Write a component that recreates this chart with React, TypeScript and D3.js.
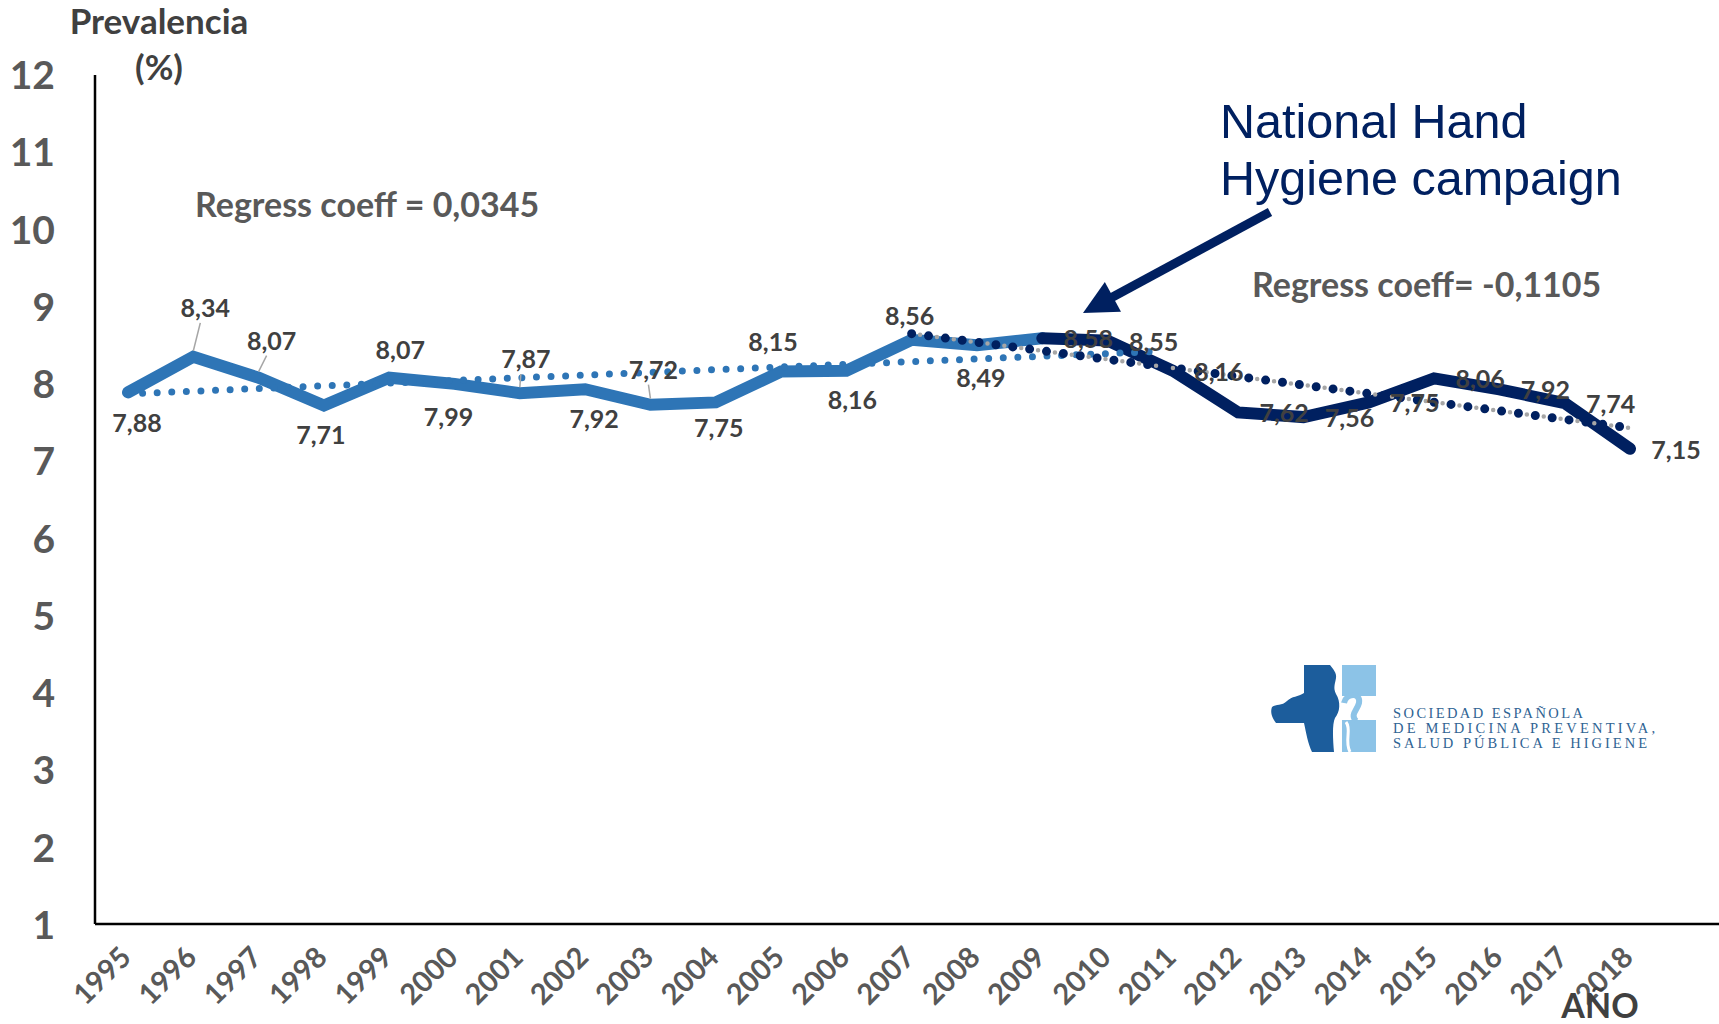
import * as d3 from "d3"
import React, { useEffect, useRef } from "react"

const years = [1995, 1996, 1997, 1998, 1999, 2000, 2001, 2002, 2003, 2004, 2005, 2006,
    2007, 2008, 2009, 2010, 2011, 2012, 2013, 2014, 2015, 2016, 2017, 2018]
const yTicks = [1, 2, 3, 4, 5, 6, 7, 8, 9, 10, 11, 12]

// prevalence before the campaign (1995-2009) and after (2009-2018)
const yearsBefore = [1995, 1996, 1997, 1998, 1999, 2000, 2001, 2002, 2003, 2004, 2005, 2006, 2007, 2008, 2009]
const prevBefore = [7.88, 8.34, 8.07, 7.71, 8.07, 7.99, 7.87, 7.92, 7.72, 7.75, 8.15, 8.16, 8.56, 8.49, 8.58]
const yearsAfter = [2009, 2010, 2011, 2012, 2013, 2014, 2015, 2016, 2017, 2018]
const prevAfter = [8.58, 8.55, 8.16, 7.62, 7.56, 7.75, 8.06, 7.92, 7.74, 7.15]

// trend lines (end points)
const trendBeforeYears = [1995, 2010.8]
const trendBeforeValues = [7.86, 8.41]
const trendAfterYears = [2007, 2018]
const trendAfterValues = [8.64, 7.42]

// manual nudges of the data labels (px) for the first series, and which have a leader line
const labelNudgeBefore = [[9, 30], [12, -50], [13, -38], [-3, 28], [11, -29], [-6, 32], [6, -35],
    [9, 29], [3, -36], [3, 25], [-8, -31], [6, 28], [-2, -25], [4, 32]]
const leaderBefore = [false, true, true, false, false, false, true, false, true, false, false, false, false, false]

const W = 1719
const H = 1024
const LIGHT = "#2e75b6"
const NAVY = "#002060"
const FONT = "Lato, 'Open Sans', sans-serif"

const fmt = (v: number) => v.toFixed(2).replace(".", ",")

const App = () => {
    const refSvg = useRef<SVGSVGElement>(null)

    useEffect(() => {
        const svg = d3.select(refSvg.current)
        svg.selectAll("*").remove()

        const x = d3.scaleLinear().domain([1995, 2018]).range([128, 1630])
        const y = d3.scaleLinear().domain([1, 12]).range([924, 74])

        svg.append("rect").attr("width", W).attr("height", H).attr("fill", "#fff")

        // axes
        svg.append("line").attr("x1", 95).attr("x2", 95).attr("y1", 75).attr("y2", y(1))
            .attr("stroke", "#000").attr("stroke-width", 2.5)
        svg.append("line").attr("x1", 95).attr("x2", W).attr("y1", y(1)).attr("y2", y(1))
            .attr("stroke", "#000").attr("stroke-width", 2.5)

        svg.append("g").selectAll("text").data(yTicks).join("text")
            .attr("x", 55).attr("y", d => y(d))
            .attr("text-anchor", "end").attr("dominant-baseline", "central")
            .attr("font-family", FONT).attr("font-weight", 700).attr("font-size", 39)
            .attr("fill", "#595959").text(d => d)

        svg.append("g").selectAll("text").data(years).join("text")
            .attr("transform", d => `translate(${x(d) + 5}, 959) rotate(-45)`)
            .attr("text-anchor", "end")
            .attr("font-family", FONT).attr("font-weight", 700).attr("font-size", 29)
            .attr("fill", "#595959").text(d => d)

        // axis titles
        const title = svg.append("g").attr("font-family", FONT).attr("font-weight", 700)
            .attr("fill", "#404040").attr("text-anchor", "middle")
        title.append("text").attr("x", 159).attr("y", 34).attr("font-size", 35).text("Prevalencia")
        title.append("text").attr("x", 159).attr("y", 80).attr("font-size", 35).text("(%)")
        title.append("text").attr("x", 1600).attr("y", 1018).attr("font-size", 34).text("AÑO")

        // solid series
        const line = d3.line<[number, number]>().x(d => x(d[0])).y(d => y(d[1]))
        svg.append("path").datum(yearsBefore.map((yr, i) => [yr, prevBefore[i]] as [number, number]))
            .attr("d", line).attr("fill", "none").attr("stroke", LIGHT).attr("stroke-width", 12)
            .attr("stroke-linecap", "round").attr("stroke-linejoin", "miter")
        svg.append("path").datum(yearsAfter.map((yr, i) => [yr, prevAfter[i]] as [number, number]))
            .attr("d", line).attr("fill", "none").attr("stroke", NAVY).attr("stroke-width", 12)
            .attr("stroke-linecap", "round").attr("stroke-linejoin", "miter")

        // trend lines
        svg.append("path").datum(trendBeforeYears.map((yr, i) => [yr, trendBeforeValues[i]] as [number, number]))
            .attr("d", line).attr("fill", "none").attr("stroke", LIGHT).attr("stroke-width", 7)
            .attr("stroke-linecap", "round").attr("stroke-dasharray", "0 14.6")
        const trendAfter = trendAfterYears.map((yr, i) => [yr, trendAfterValues[i]] as [number, number])
        svg.append("path").datum(trendAfter)
            .attr("d", line).attr("fill", "none").attr("stroke", "#a6a6a6").attr("stroke-width", 4.5)
            .attr("stroke-linecap", "round").attr("stroke-dasharray", "0 17").attr("stroke-dashoffset", -8.5)
        svg.append("path").datum(trendAfter)
            .attr("d", line).attr("fill", "none").attr("stroke", NAVY).attr("stroke-width", 9)
            .attr("stroke-linecap", "round").attr("stroke-dasharray", "0 17")

        // data labels
        const labels = svg.append("g").attr("font-family", FONT).attr("font-weight", 700)
            .attr("font-size", 25).attr("fill", "#404040").attr("text-anchor", "middle")
            .attr("dominant-baseline", "central")
        yearsBefore.slice(0, labelNudgeBefore.length).forEach((yr, i) => {
            const px = x(yr)
            const py = y(prevBefore[i])
            const [dx, dy] = labelNudgeBefore[i]
            if (leaderBefore[i]) {
                svg.append("line")
                    .attr("x1", px + dx - 5).attr("y1", py + dy + 16)
                    .attr("x2", px).attr("y2", py - 6)
                    .attr("stroke", "#a6a6a6").attr("stroke-width", 1.5)
            }
            labels.append("text").attr("x", px + dx).attr("y", py + dy).text(fmt(prevBefore[i]))
        })
        yearsAfter.forEach((yr, i) => {
            labels.append("text").attr("x", x(yr) + 46).attr("y", y(prevAfter[i]))
                .text(fmt(prevAfter[i]))
        })
        labels.raise()

        // regression notes
        const notes = svg.append("g").attr("font-family", FONT).attr("font-weight", 700)
            .attr("font-size", 34).attr("fill", "#595959").attr("dominant-baseline", "central")
        notes.append("text").attr("x", 195).attr("y", 203).text("Regress coeff = 0,0345")
        notes.append("text").attr("x", 1252).attr("y", 283).text("Regress coeff= -0,1105")

        // campaign annotation
        const ann = svg.append("g").attr("font-family", "'Liberation Sans', Arial, sans-serif")
            .attr("font-size", 48.5).attr("fill", NAVY)
        ann.append("text").attr("x", 1220).attr("y", 138).text("National Hand")
        ann.append("text").attr("x", 1220).attr("y", 195).text("Hygiene campaign")

        const start: [number, number] = [1270, 212]
        const tip: [number, number] = [1083, 313]
        const len = Math.hypot(tip[0] - start[0], tip[1] - start[1])
        const ux = (tip[0] - start[0]) / len
        const uy = (tip[1] - start[1]) / len
        const headL = 34
        const headW = 17
        const bx = tip[0] - ux * headL
        const by = tip[1] - uy * headL
        svg.append("line").attr("x1", start[0]).attr("y1", start[1])
            .attr("x2", bx + ux * 4).attr("y2", by + uy * 4)
            .attr("stroke", NAVY).attr("stroke-width", 9)
        svg.append("path")
            .attr("d", `M${tip[0]},${tip[1]} L${bx - uy * headW},${by + ux * headW} L${bx + uy * headW},${by - ux * headW} Z`)
            .attr("fill", NAVY)

        // logo of the society
        const logo = svg.append("g")
        logo.append("path")
            .attr("d", "M1304,665 L1330,665 C1333,669 1337,673 1336,678 C1335,684 1333,688 1336,694 C1341,702 1340,712 1335,718 C1332,724 1333,740 1334,752 L1312,752 C1308,744 1306,732 1304,723 L1276,723 C1272,718 1270,712 1272,707 C1276,704 1282,706 1287,701 C1292,696 1298,697 1304,693 Z")
            .attr("fill", "#1c5d9c")
        logo.append("rect").attr("x", 1342).attr("y", 665).attr("width", 34).attr("height", 31).attr("fill", "#8cc3e7")
        logo.append("rect").attr("x", 1342).attr("y", 720).attr("width", 34).attr("height", 32).attr("fill", "#8cc3e7")
        logo.append("path").attr("d", "M1346,722 C1352,730 1344,740 1350,752")
            .attr("fill", "none").attr("stroke", "#fff").attr("stroke-width", 3)
        logo.append("path").attr("d", "M1344,703 C1346,693 1361,692 1359,703 C1357,711 1350,714 1356,721")
            .attr("fill", "none").attr("stroke", "#8cc3e7").attr("stroke-width", 6)
        const logoText = logo.append("g").attr("font-family", "'Liberation Serif', serif")
            .attr("font-size", 14.5).attr("fill", "#2f6393")
        logoText.append("text").attr("x", 1393).attr("y", 718).attr("textLength", 190).text("SOCIEDAD ESPAÑOLA")
        logoText.append("text").attr("x", 1393).attr("y", 733).attr("textLength", 262).text("DE MEDICINA PREVENTIVA,")
        logoText.append("text").attr("x", 1393).attr("y", 748).attr("textLength", 254).text("SALUD PÚBLICA E HIGIENE")
    }, [])

    return (
        <svg ref={refSvg} width={W} height={H}
            style={{ position: "absolute", left: 0, top: 0, display: "block" }}></svg>
    )
}

export default App
